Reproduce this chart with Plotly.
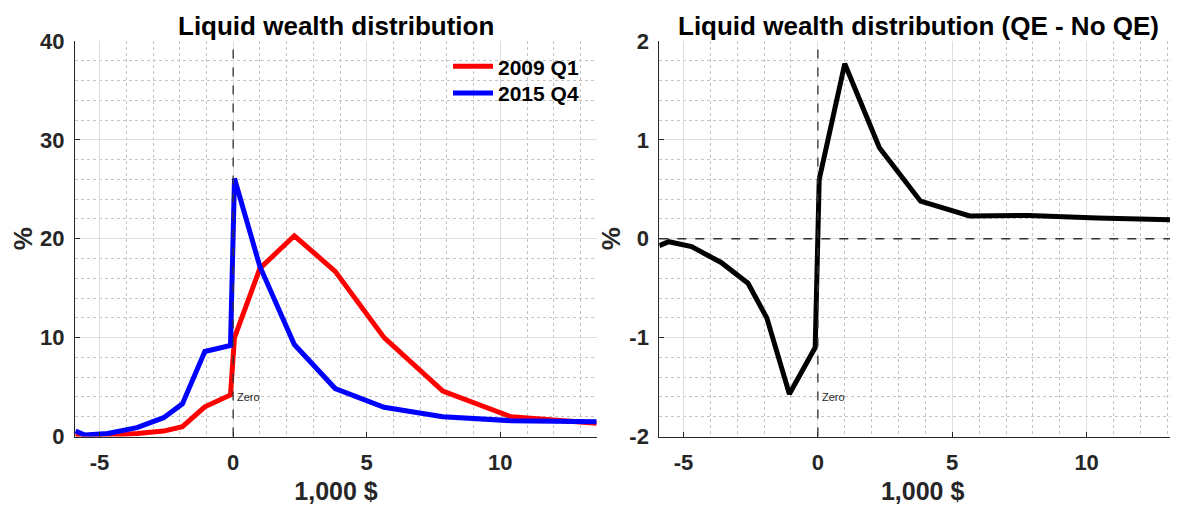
import plotly.graph_objects as go

# Data (x in 1,000 $)
wealth_x = [-5.9, -5.55, -4.7, -3.6, -2.6, -1.9, -1.06, -0.1, 0.05, 1.0, 2.29, 3.82, 5.65, 7.85, 10.4, 13.6]
dist_2009q1 = [0.05, 0.05, 0.1, 0.3, 0.55, 1.0, 3.0, 4.2, 10.0, 17.0, 20.3, 16.7, 10.0, 4.6, 2.0, 1.35]
dist_2015q4 = [0.55, 0.15, 0.3, 0.9, 1.9, 3.3, 8.6, 9.2, 26.1, 17.2, 9.3, 4.85, 2.95, 2.0, 1.6, 1.5]
diff_qe = [-0.07, -0.03, -0.08, -0.24, -0.45, -0.8, -1.57, -1.1, 0.6, 1.77, 0.92, 0.38, 0.23, 0.235, 0.21, 0.19]

x_ticks = [-5, 0, 5, 10]
y1_ticks = [0, 10, 20, 30, 40]
y2_ticks = [-2, -1, 0, 1, 2]

FONT = "Liberation Sans, Arial, Helvetica, sans-serif"
TXT = "#262626"
TICK_SIZE = 22
LABEL_SIZE = 26

W, H = 1178, 508
OFF = 8  # page body margin offset


def px(p):  # screen x pixel -> paper fraction
    return (p - OFF) / W


def py(p):  # screen y pixel -> paper fraction
    return (H - (p - OFF)) / H


fig = go.Figure()
fig.add_trace(go.Scatter(x=wealth_x, y=dist_2009q1, mode="lines", name="2009 Q1",
                         line=dict(color="#ff0000", width=5), xaxis="x", yaxis="y",
                         legend="legend"))
fig.add_trace(go.Scatter(x=wealth_x, y=dist_2015q4, mode="lines", name="2015 Q4",
                         line=dict(color="#0000ff", width=5), xaxis="x", yaxis="y",
                         legend="legend2"))
fig.add_trace(go.Scatter(x=wealth_x, y=diff_qe, mode="lines", name="QE - No QE",
                         line=dict(color="#000000", width=5), xaxis="x2", yaxis="y2",
                         showlegend=False))

ydom = [py(436.5), py(41)]


def lbl(v):
    return str(v).replace("\u2212", "-")


def common(vals):
    return dict(tickmode="array", tickvals=vals, ticktext=[lbl(v) for v in vals],
                ticks="inside", ticklen=5, tickcolor=TXT,
                showline=True, linecolor=TXT, linewidth=1, mirror=False,
                showgrid=True, gridcolor="#dedede", gridwidth=1,
                zeroline=False, automargin=False,
                tickfont=dict(family=FONT, size=TICK_SIZE, color=TXT, weight="bold"))


def xaxis(domain, rng, anchor):
    d = common(x_ticks)
    d.update(domain=domain, range=rng, anchor=anchor, ticklabelstandoff=6,
             minor=dict(dtick=1, tick0=0, showgrid=True, gridcolor="#c4c4c4",
                        griddash="dot", gridwidth=1, ticks=""),
             title=dict(text="1,000 $", font=dict(family=FONT, size=25, color=TXT, weight="bold"),
                        standoff=8))
    return d


def yaxis(domain, rng, anchor, vals, minor_dtick):
    d = common(vals)
    d.update(domain=domain, range=rng, anchor=anchor, ticklabelstandoff=5,
             minor=dict(dtick=minor_dtick, tick0=0, showgrid=True, gridcolor="#c4c4c4",
                        griddash="dot", gridwidth=1, ticks=""),
             title=dict(text="%", font=dict(family=FONT, size=LABEL_SIZE, color=TXT, weight="bold"),
                        standoff=1))
    return d


leg_common = dict(xanchor="left", yanchor="middle", bgcolor="rgba(0,0,0,0)", borderwidth=0,
                  font=dict(family=FONT, size=21, color="#000000", weight="bold"),
                  itemwidth=40)

# right panel: extends past the visible edge (clipped like the reference)
r_left, r_right = 659.3, 1178 + OFF
r_scale = (1178 - r_left) / (13.4 - (-5.9))
r_xmax = -5.9 + (r_right - r_left) / r_scale

fig.update_layout(
    width=W, height=H,
    margin=dict(l=0, r=0, t=0, b=0, autoexpand=False),
    paper_bgcolor="white", plot_bgcolor="white",
    font=dict(family=FONT, color=TXT),
    xaxis=xaxis([px(75), px(597)], [-5.92, 13.62], "y"),
    yaxis=yaxis(ydom, [0, 40], "x", y1_ticks, 2),
    xaxis2=xaxis([px(r_left), 1.0], [-5.9, r_xmax], "y2"),
    yaxis2=yaxis(ydom, [-2, 2], "x2", y2_ticks, 0.2),
    legend=dict(x=px(448), y=py(66.7), **leg_common),
    legend2=dict(x=px(448), y=py(93.3), **leg_common),
    showlegend=True,
)

# Zero lines
fig.add_shape(type="line", xref="x", yref="y domain", x0=0, x1=0, y0=0, y1=1,
              line=dict(color="#333333", width=1.3, dash="dash"))
fig.add_shape(type="line", xref="x2", yref="y2 domain", x0=0, x1=0, y0=0, y1=1,
              line=dict(color="#333333", width=1.3, dash="dash"))
fig.add_shape(type="line", xref="x2 domain", yref="y2", x0=0, x1=1, y0=0, y1=0,
              line=dict(color="#333333", width=1.3, dash="dash"))

fig.add_annotation(x=0.08, y=4.0, xref="x", yref="y", text="Zero", showarrow=False,
                   xanchor="left", yanchor="middle", font=dict(family=FONT, size=11, color=TXT))
fig.add_annotation(x=0.08, y=-1.6, xref="x2", yref="y2", text="Zero", showarrow=False,
                   xanchor="left", yanchor="middle", font=dict(family=FONT, size=11, color=TXT))

# Titles
fig.add_annotation(x=px((75 + 597) / 2), y=py(26), xref="paper", yref="paper",
                   text="Liquid wealth distribution", showarrow=False,
                   xanchor="center", yanchor="middle",
                   font=dict(family=FONT, size=LABEL_SIZE, color="#000000", weight="bold"))
fig.add_annotation(x=px((659.3 + 1178) / 2), y=py(26), xref="paper", yref="paper",
                   text="Liquid wealth distribution (QE - No QE)", showarrow=False,
                   xanchor="center", yanchor="middle",
                   font=dict(family=FONT, size=LABEL_SIZE, color="#000000", weight="bold"))

fig.write_html("out.html")
